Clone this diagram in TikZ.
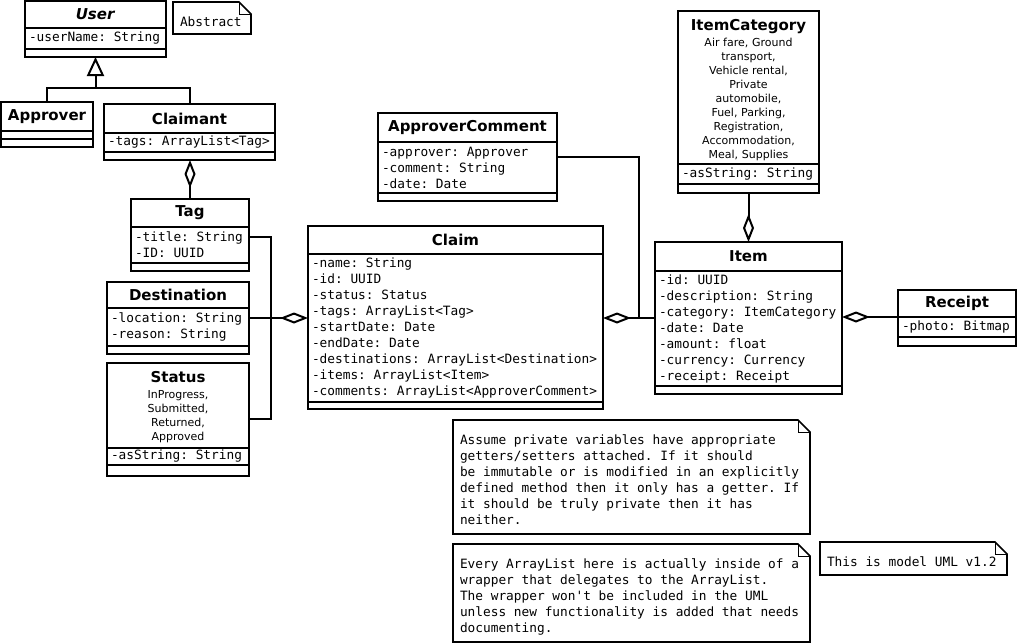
\documentclass[tikz,border=0pt]{standalone}
\usepackage{fontspec}
\setmainfont{DejaVu Sans}
\setmonofont{DejaVu Sans Mono}
\usetikzlibrary{positioning, arrows.meta}

\newcommand{\classfont}{\bfseries\fontsize{15}{18}\selectfont}
\newcommand{\enumfont}{\fontsize{11}{14}\selectfont}
\newcommand{\attrfont}{\ttfamily\fontsize{12.8}{16}\selectfont\frenchspacing}

\begin{document}
\begin{tikzpicture}[
    x=1pt, y=-1pt,
    classhead/.style={rectangle, draw, line width=2pt, outer sep=0pt, inner sep=0pt, minimum width=#1, font=\classfont, align=center},
    enumhead/.style={rectangle, draw, line width=2pt, outer sep=0pt, inner sep=0pt, text width=#1, font=\enumfont, align=center, text height=19pt},
    classattr/.style={rectangle, draw, line width=2pt, outer sep=0pt, inner xsep=4pt, inner ysep=0pt, text width=#1, font=\attrfont, align=flush left, execute at begin node={\spaceskip=0pt\xspaceskip=0pt}},
    classops/.style={rectangle, draw, line width=2pt, outer sep=0pt, inner sep=0pt, minimum width=#1, minimum height=8pt},
    note/.style={rectangle, outer sep=0pt, inner xsep=7pt, inner ysep=0pt, text width=#1, font=\attrfont, align=flush left, execute at begin node={\spaceskip=0pt\xspaceskip=0pt}, text height=24pt},
    noteline/.style={line width=1.6pt},
    fold/.style={line width=1pt},
    assoc/.style={line width=2pt},
    aggregate/.style={assoc, -{Diamond[open, length=28pt, width=11pt]}},
    generalize/.style={assoc, -{Triangle[open, length=19pt, width=17pt]}}
]
\useasboundingbox (0,0) rectangle (1017,643);

% Users
\node[classhead=141pt, minimum height=27pt, anchor=north west] (userhead) at (25,1) {\textit{User}};
\node[classattr=133pt, minimum height=21pt, below=0pt of userhead] (userattr) {-userName: String};
\node[classops=141pt, below=0pt of userattr] (userops) {};

\node[note=64pt, text depth=8pt, anchor=north west] (abstractnote) at (173,2) {Abstract};

\node[classhead=92pt, minimum height=29pt, anchor=north west] (approverhead) at (1,102) {Approver};
\node[classops=92pt, below=0pt of approverhead] (approverattr) {};
\node[classops=92pt, below=0pt of approverattr] (approverops) {};

\node[classhead=171pt, minimum height=29pt, anchor=north west] (claimanthead) at (104,104) {Claimant};
\node[classattr=163pt, minimum height=19pt, below=0pt of claimanthead] (claimantattr) {-tags: ArrayList<Tag>};
\node[classops=171pt, below=0pt of claimantattr] (claimantops) {};

% Claim parts
\node[classhead=118pt, minimum height=28pt, anchor=north west] (taghead) at (131,199) {Tag};
\node[classattr=110pt, minimum height=36pt, below=0pt of taghead] (tagattr) {-title: String\\-ID: UUID};
\node[classops=118pt, below=0pt of tagattr] (tagops) {};

\node[classhead=142pt, minimum height=26pt, anchor=north west] (desthead) at (107,282) {Destination};
\node[classattr=134pt, minimum height=38pt, below=0pt of desthead] (destattr) {-location: String\\-reason: String};
\node[classops=142pt, below=0pt of destattr] (destops) {};

\node[enumhead=142pt, text depth=66pt, anchor=north west] (statushead) at (107,363) {{\classfont Status}\\[2pt]InProgress,\\Submitted,\\Returned,\\Approved};
\node[classattr=134pt, minimum height=17pt, below=0pt of statushead] (statusattr) {-asString: String};
\node[classops=142pt, minimum height=11pt, below=0pt of statusattr] (statusops) {};

% Claim
\node[classhead=295pt, minimum height=28pt, anchor=north west] (claimhead) at (308,226) {Claim};
\node[classattr=287pt, minimum height=148pt, below=0pt of claimhead] (claimattr) {-name: String\\-id: UUID\\-status: Status\\-tags: ArrayList<Tag>\\-startDate: Date\\-endDate: Date\\-destinations: ArrayList<Destination>\\-items: ArrayList<Item>\\-comments: ArrayList<ApproverComment>};
\node[classops=295pt, minimum height=7pt, below=0pt of claimattr] (claimops) {};

\node[classhead=179pt, minimum height=29pt, anchor=north west] (commenthead) at (378,113) {ApproverComment};
\node[classattr=171pt, minimum height=51pt, below=0pt of commenthead] (commentattr) {-approver: Approver\\-comment: String\\-date: Date};
\node[classops=179pt, below=0pt of commentattr] (commentops) {};

% Items
\node[enumhead=141pt, text depth=134pt, anchor=north west] (categoryhead) at (678,11) {{\classfont ItemCategory}\\[2pt]Air fare, Ground\\transport,\\Vehicle rental,\\Private\\automobile,\\Fuel, Parking,\\Registration,\\Accommodation,\\Meal, Supplies};
\node[classattr=133pt, minimum height=20pt, below=0pt of categoryhead] (categoryattr) {-asString: String};
\node[classops=141pt, minimum height=9pt, below=0pt of categoryattr] (categoryops) {};

\node[classhead=187pt, minimum height=29pt, anchor=north west] (itemhead) at (655,242) {Item};
\node[classattr=179pt, minimum height=115pt, below=0pt of itemhead] (itemattr) {-id: UUID\\-description: String\\-category: ItemCategory\\-date: Date\\-amount: float\\-currency: Currency\\-receipt: Receipt};
\node[classops=187pt, below=0pt of itemattr] (itemops) {};

\node[classhead=118pt, minimum height=27pt, anchor=north west] (receipthead) at (898,290) {Receipt};
\node[classattr=110pt, minimum height=20pt, below=0pt of receipthead] (receiptattr) {-photo: Bitmap};
\node[classops=118pt, minimum height=9pt, below=0pt of receiptattr] (receiptops) {};

% Notes
\node[note=343pt, text depth=90pt, anchor=north west] (gettersnote) at (453,420) {Assume private variables have appropriate\\getters/setters attached. If it should\\be immutable or is modified in an explicitly\\defined method then it only has a getter. If\\it should be truly private then it has\\neither.};
\node[note=343pt, text depth=74pt, anchor=north west] (wrappernote) at (453,544) {Every ArrayList here is actually inside of a\\wrapper that delegates to the ArrayList.\\The wrapper won't be included in the UML\\unless new functionality is added that needs\\documenting.};
\node[note=173pt, text depth=9pt, anchor=north west] (versionnote) at (820,542) {This is model UML v1.2};

\draw[noteline] (abstractnote.north west) -- ([xshift=-12pt]abstractnote.north east) -- ([yshift=-12pt]abstractnote.north east) -- (abstractnote.south east) -- (abstractnote.south west) -- cycle;
\draw[fold] ([xshift=-12pt]abstractnote.north east) |- ([yshift=-12pt]abstractnote.north east);
\draw[noteline] (gettersnote.north west) -- ([xshift=-12pt]gettersnote.north east) -- ([yshift=-12pt]gettersnote.north east) -- (gettersnote.south east) -- (gettersnote.south west) -- cycle;
\draw[fold] ([xshift=-12pt]gettersnote.north east) |- ([yshift=-12pt]gettersnote.north east);
\draw[noteline] (wrappernote.north west) -- ([xshift=-12pt]wrappernote.north east) -- ([yshift=-12pt]wrappernote.north east) -- (wrappernote.south east) -- (wrappernote.south west) -- cycle;
\draw[fold] ([xshift=-12pt]wrappernote.north east) |- ([yshift=-12pt]wrappernote.north east);
\draw[noteline] (versionnote.north west) -- ([xshift=-12pt]versionnote.north east) -- ([yshift=-12pt]versionnote.north east) -- (versionnote.south east) -- (versionnote.south west) -- cycle;
\draw[fold] ([xshift=-12pt]versionnote.north east) |- ([yshift=-12pt]versionnote.north east);

% Connectors
\coordinate (genjoin) at (95.5,88);
\draw[assoc] (approverhead.north) |- (genjoin);
\draw[assoc] (claimanthead.north) |- (genjoin);
\draw[generalize] (genjoin) -- (userops.south);

\draw[aggregate] (taghead.north) -- (taghead.north |- claimantops.south);

\coordinate (partsjoin) at (271,318);
\draw[assoc] ([yshift=-10pt]tagattr.north east) -| (partsjoin);
\draw[assoc] ([yshift=-13.5pt]statushead.east) -| (partsjoin);
\draw[aggregate] (destattr.east |- partsjoin) -- (claimattr.west |- partsjoin);

\coordinate (commentjoin) at (639,318);
\draw[assoc] ([yshift=-15pt]commentattr.north east) -| (commentjoin);
\draw[aggregate] (itemattr.west |- commentjoin) -- (claimattr.east |- commentjoin);

\draw[aggregate] (categoryops.south) -- (itemhead.north);
\draw[aggregate] (receiptattr.north west) -- (itemattr.east |- receiptattr.north west);

\end{tikzpicture}
\end{document}
